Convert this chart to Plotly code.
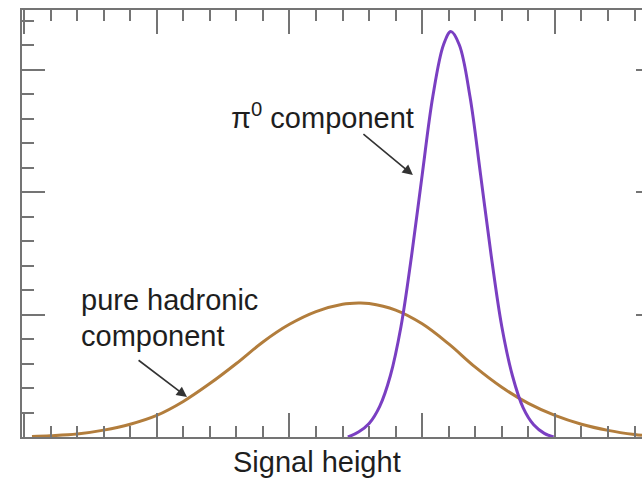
import plotly.graph_objects as go

# Curve values (x and y in minor-tick units)
hadronic_x = [0.3, 1, 2, 3, 4, 5, 6, 7, 8, 9, 10, 11, 12, 12.6, 13, 14, 15, 16, 17, 18,
              19, 20, 21, 22, 23, 23.28]
hadronic_y = [0.02, 0.05, 0.12, 0.28, 0.52, 0.88, 1.45, 2.18, 3.0, 3.88, 4.6, 5.12, 5.42,
              5.47, 5.45, 5.18, 4.62, 3.8, 2.85, 2.03, 1.37, 0.88, 0.52, 0.27, 0.1, 0.07]

pi0_x = [12.2, 12.6, 13.0, 13.4, 13.8, 14.2, 14.6, 15.0, 15.4, 15.8, 16.08, 16.4, 16.8,
         17.2, 17.6, 18.0, 18.4, 18.8, 19.2, 19.6, 19.95]
pi0_y = [0.0, 0.2, 0.55, 1.25, 2.5, 4.5, 7.4, 10.7, 13.9, 16.0, 16.55, 16.0, 13.9,
         10.7, 7.4, 4.5, 2.5, 1.2, 0.5, 0.15, 0.0]

x_minor_ticks = list(range(0, 24))
x_major_ticks = [0, 5, 10, 15, 20]
y_right_ticks = [5, 10, 15]

x_title = "Signal height"
label_pi0 = "π<sup>0</sup> component"
label_had_1 = "pure hadronic"
label_had_2 = "component"

BROWN = "#b27d3c"
PURPLE = "#7a3fc2"
AXIS = "#747474"
TEXT = "#1e1e1e"
FONT = "Liberation Sans, Arial, sans-serif"
FS = 29

fig = go.Figure()
fig.add_trace(go.Scatter(x=hadronic_x, y=hadronic_y, mode="lines",
                         line=dict(color=BROWN, width=3, shape="spline", smoothing=1.0),
                         hoverinfo="skip", showlegend=False))
fig.add_trace(go.Scatter(x=pi0_x, y=pi0_y, mode="lines",
                         line=dict(color=PURPLE, width=3, shape="spline", smoothing=1.0),
                         hoverinfo="skip", showlegend=False))
# invisible traces carrying the overlay axes (major / top / right ticks)
for xa, ya in [("x2", "y"), ("x3", "y"), ("x4", "y"), ("x", "y2")]:
    fig.add_trace(go.Scatter(x=[1], y=[1], xaxis=xa, yaxis=ya, mode="markers",
                             marker=dict(opacity=0), hoverinfo="skip", showlegend=False))

XR = [-0.075, 23.28]
YR = [0, 17.43]


def xax(side, vals, length, line, overlay):
    d = dict(range=XR, side=side, anchor="y", showgrid=False, zeroline=False,
             showticklabels=False, showline=line, linecolor=AXIS, linewidth=2,
             ticks="inside", tickmode="array", tickvals=vals, ticklen=length,
             tickwidth=2, tickcolor=AXIS)
    if overlay:
        d["overlaying"] = "x"
    return d


fig.update_layout(
    width=642, height=479,
    margin=dict(l=22, r=0, t=10, b=42, pad=0),
    paper_bgcolor="white", plot_bgcolor="white",
    font=dict(family=FONT, color=TEXT, size=FS),
    xaxis=xax("bottom", x_minor_ticks, 11, True, False),
    xaxis2=xax("bottom", x_major_ticks, 24, False, True),
    xaxis3=xax("top", x_minor_ticks, 11, True, True),
    xaxis4=xax("top", x_major_ticks, 24, False, True),
    yaxis=dict(range=YR, showgrid=False, zeroline=False, showticklabels=False,
               showline=True, linecolor=AXIS, linewidth=2, mirror=False,
               ticks="inside", dtick=5, tick0=0, ticklen=23, tickwidth=2, tickcolor=AXIS,
               minor=dict(dtick=1, tick0=0, ticks="inside", ticklen=12, tickwidth=2,
                          tickcolor=AXIS, showgrid=False)),
    yaxis2=dict(range=YR, overlaying="y", anchor="x", side="right", showgrid=False,
                zeroline=False, showticklabels=False, showline=False,
                ticks="inside", tickmode="array", tickvals=y_right_ticks, ticklen=6,
                tickwidth=2, tickcolor=AXIS),
)

annos = [
    dict(x=(317.5 - 24) / 26.55, y=-25 / 427, xref="x", yref="paper", text=x_title,
         showarrow=False, xanchor="center", yanchor="middle", font=dict(size=FS)),
    dict(x=(229 - 24) / 26.55, y=(437 - 116) / 24.5, xref="x", yref="y", text=label_pi0,
         showarrow=False, xanchor="left", yanchor="middle", font=dict(size=FS)),
    dict(x=(79 - 24) / 26.55, y=(437 - 300) / 24.5, xref="x", yref="y", text=label_had_1,
         showarrow=False, xanchor="left", yanchor="middle", font=dict(size=FS)),
    dict(x=(79 - 24) / 26.55, y=(437 - 336) / 24.5, xref="x", yref="y", text=label_had_2,
         showarrow=False, xanchor="left", yanchor="middle", font=dict(size=FS)),
    dict(x=6.14, y=1.63, ax=4.26, ay=3.18, xref="x", yref="y", axref="x", ayref="y",
         text="", showarrow=True, arrowhead=2, arrowsize=1.3, arrowwidth=1.6,
         arrowcolor="#333333", standoff=0),
    dict(x=14.65, y=10.69, ax=12.73, ay=12.41, xref="x", yref="y", axref="x", ayref="y",
         text="", showarrow=True, arrowhead=2, arrowsize=1.3, arrowwidth=1.6,
         arrowcolor="#333333", standoff=0),
]
fig.update_layout(annotations=annos)

fig.write_html("out.html", config=dict(displayModeBar=False))
